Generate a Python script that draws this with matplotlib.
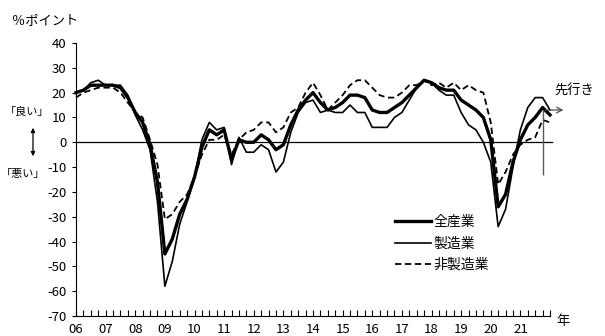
import numpy as np
import matplotlib.pyplot as plt

plt.rcParams['font.family'] = ['Noto Sans CJK JP', 'DejaVu Sans']
plt.rcParams['axes.unicode_minus'] = False

W, H = 605, 336

# 業況判断DI (大企業), 2006年3月調査から四半期ごと, 最後の値は先行き
year_labels = ['06', '07', '08', '09', '10', '11', '12', '13',
               '14', '15', '16', '17', '18', '19', '20', '21']

all_ind = [20, 21, 23, 23, 23, 23, 22, 18, 12, 8, -1, -16,
           -45, -39, -29, -23, -14, -2, 5, 3, 5, -7, 1, 0,
           0, 3, 1, -3, -1, 7, 13, 17, 20, 16, 13, 14,
           16, 19, 19, 18, 13, 12, 12, 14, 16, 19, 22, 25,
           24, 22, 21, 21, 17, 15, 13, 10, 1, -26, -21, -8,
           1, 7, 10, 14, 11]

mfg = [20, 21, 24, 25, 23, 23, 23, 19, 11, 5, -3, -24,
       -58, -48, -33, -24, -14, 1, 8, 5, 6, -9, 2, -4,
       -4, -1, -3, -12, -8, 4, 12, 16, 17, 12, 13, 12,
       12, 15, 12, 12, 6, 6, 6, 10, 12, 17, 22, 25,
       24, 21, 19, 19, 12, 7, 5, 0, -8, -34, -27, -10,
       5, 14, 18, 18, 13]

non_mfg = [18, 20, 21, 22, 22, 22, 20, 16, 12, 10, 1, -9,
           -31, -29, -24, -21, -14, -5, 1, 1, 3, -5, 1, 4,
           5, 8, 8, 4, 6, 12, 14, 20, 24, 19, 13, 16,
           19, 23, 25, 25, 22, 19, 18, 18, 20, 23, 23, 25,
           23, 24, 22, 24, 21, 23, 21, 20, 8, -17, -12, -5,
           -1, 1, 2, 9, 8]


def px(x, y):
    return x / W, 1 - y / H


x = 2006 + np.arange(len(all_ind)) / 4

fig = plt.figure(figsize=(W / 100, H / 100), dpi=100)
ax = fig.add_axes([76 / W, 1 - 316 / H, 474 / W, 273 / H])

ax.plot(x, all_ind, color='black', lw=2.4, label='全産業', clip_on=False)
ax.plot(x, mfg, color='black', lw=1.2, label='製造業', clip_on=False)
ax.plot(x, non_mfg, color='black', lw=1.3, ls=(0, (3.5, 2)),
        label='非製造業', clip_on=False)
ax.axhline(0, color='black', lw=0.9, xmax=1.005, clip_on=False)

# 実績と先行きの区切り
ax.vlines(x[-2], -13, 13, color='0.35', lw=1)
ax.annotate('', xy=(2022.55, 13), xytext=(x[-2], 13),
            arrowprops=dict(arrowstyle='->', color='0.3', lw=0.9),
            annotation_clip=False)

ax.set_xlim(2006, 2022)
ax.set_ylim(-70, 40)
ax.set_yticks(range(-70, 41, 10))
ax.set_xticks(np.arange(2006, 2022))
ax.set_xticklabels(year_labels)
ax.set_xticks(np.arange(2006, 2022.01, 0.25), minor=True)
ax.tick_params(axis='x', which='both', direction='in', length=4, width=0.8)
ax.tick_params(axis='x', which='major', pad=5, labelsize=9.5)
ax.tick_params(axis='y', direction='out', length=3, width=0.8, pad=4,
               labelsize=9.5)
for s in ['top', 'right']:
    ax.spines[s].set_visible(False)
for s in ['left', 'bottom']:
    ax.spines[s].set_linewidth(0.8)

ax.legend(loc='upper left', bbox_to_anchor=px(395, 215),
          bbox_transform=fig.transFigure, frameon=False, fontsize=10,
          handlelength=2.6, handletextpad=0.15, labelspacing=0.55,
          borderpad=0, borderaxespad=0)

fig.text(*px(45, 21), '％ポイント', fontsize=9.5, ha='center', va='center')
fig.text(*px(5, 112), '「良い」', fontsize=8, ha='left', va='center')
fig.text(*px(1, 174), '「悪い」', fontsize=8, ha='left', va='center')
fig.text(*px(563, 322), '年', fontsize=9.5, ha='center', va='center')
fig.text(*px(574, 91), '先行き', fontsize=9.5, ha='center', va='center')
ax.annotate('', xy=px(33, 159), xytext=px(33, 125),
            xycoords='figure fraction', textcoords='figure fraction',
            arrowprops=dict(arrowstyle='<|-|>', color='black', lw=0.9,
                            mutation_scale=6))

fig.savefig('out.png', dpi=100)
